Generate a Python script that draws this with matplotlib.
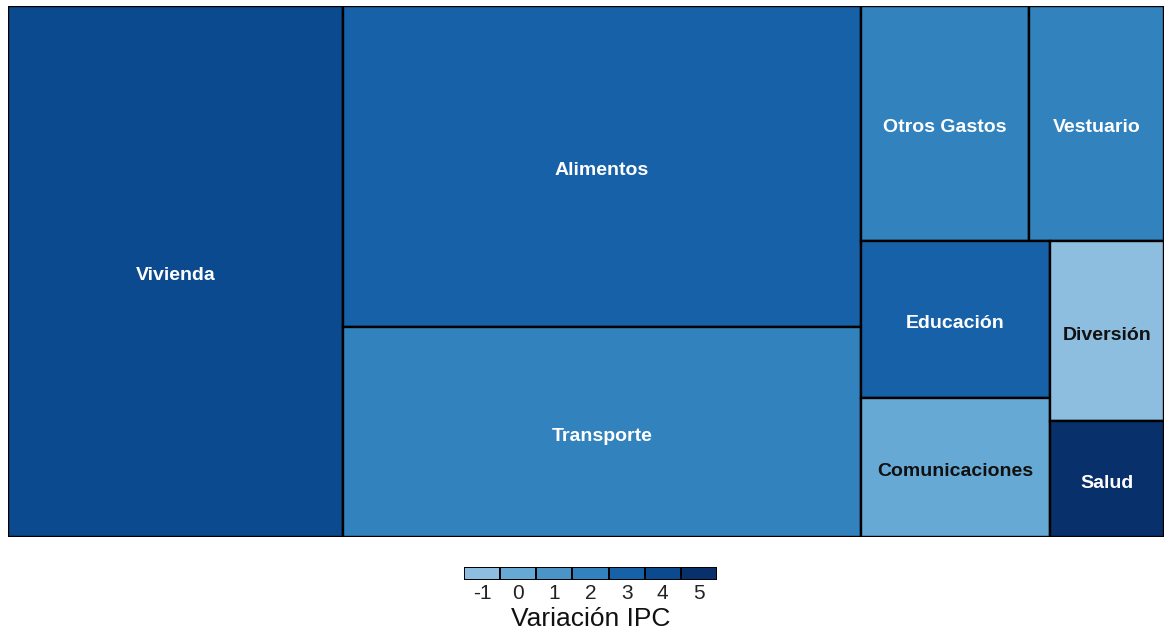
import matplotlib.pyplot as plt
from matplotlib.patches import Rectangle
from matplotlib.colors import ListedColormap, BoundaryNorm

# weights (% of basket) and IPC variation per group
names = ["Vivienda", "Alimentos", "Transporte", "Otros Gastos", "Vestuario",
         "Educación", "Comunicaciones", "Diversión", "Salud"]
weights = [28.98, 27.09, 17.72, 6.43, 5.17, 4.83, 4.28, 3.34, 2.15]
ipc = [4.2, 3.1, 1.9, 2.2, 1.8, 3.3, 0.2, -0.7, 4.9]

legend_ticks = [-1, 0, 1, 2, 3, 4, 5]
palette = ["#8dbedf", "#66a9d5", "#4a94c8", "#3182bd", "#1761a9", "#0b4a8f", "#08306b"]
light = ["Comunicaciones", "Diversión"]

# nesting of the slice-and-dice layout (alternating direction)
layout = [["Vivienda"], ["Alimentos", "Transporte"],
          [["Otros Gastos", "Vestuario"],
           [["Educación", "Comunicaciones"], ["Diversión", "Salud"]]]]

w = dict(zip(names, weights))
v = dict(zip(names, ipc))
cmap = ListedColormap(palette)
norm = BoundaryNorm([t - 0.5 for t in legend_ticks] + [legend_ticks[-1] + 0.5], cmap.N)


def total(node):
    if isinstance(node, str):
        return w[node]
    return sum(total(n) for n in node)


def draw(ax, node, x, y, dx, dy, horiz):
    if isinstance(node, str):
        ax.add_patch(Rectangle((x, y), dx, dy, facecolor=cmap(norm(v[node])),
                               edgecolor="black", lw=1.7))
        ax.annotate(node, (x + dx / 2, y + dy / 2), xytext=(0, -3),
                    textcoords="offset points", ha="center", va="center",
                    fontsize=14, fontweight="bold", family="Liberation Sans",
                    color="#111111" if node in light else "white")
        return
    t = total(node)
    for n in node:
        f = total(n) / t
        if horiz:
            draw(ax, n, x, y, dx * f, dy, not horiz)
            x += dx * f
        else:
            draw(ax, n, x, y, dx, dy * f, not horiz)
            y += dy * f


fig = plt.figure(figsize=(11.64, 6.36), dpi=100)
ax = fig.add_axes([8 / 1164, 99 / 636, 1156 / 1164, 531 / 636])
draw(ax, layout, 0, 0, 1, 1, True)
ax.set_xlim(0, 1)
ax.set_ylim(1, 0)
ax.axis("off")

# legend
lax = fig.add_axes([464 / 1164, 56 / 636, 253 / 1164, 13 / 636])
for i, c in enumerate(palette):
    lax.add_patch(Rectangle((i, 0), 1, 1, facecolor=c, edgecolor="black", lw=1.4))
    lax.text(i + 0.5, -0.3, str(legend_ticks[i]), ha="center", va="top",
             fontsize=15, family="Liberation Sans", color="#222222")
lax.text(len(palette) / 2, -2.1, "Variación IPC", ha="center", va="top",
         fontsize=19, family="Liberation Sans", color="#111111")
lax.set_xlim(0, len(palette))
lax.set_ylim(0, 1)
lax.axis("off")

fig.savefig("out.png", dpi=100)
